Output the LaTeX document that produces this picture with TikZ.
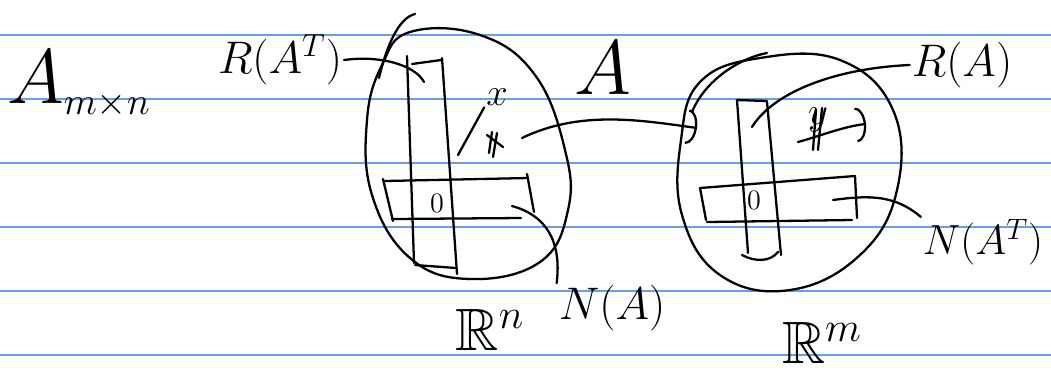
\RequirePackage{fix-cm}
\documentclass[tikz,border=0pt]{standalone}
\usepackage{amsmath,amssymb}
\usetikzlibrary{arrows.meta}
\definecolor{ruleblue}{RGB}{100,160,235}
\tikzset{
  ink/.style={line width=1.3pt, line cap=round, line join=round},
  rule/.style={draw=ruleblue, line width=0.9pt},
  lbl/.style={font=\fontsize{26}{28}\selectfont, inner sep=1pt},
  big/.style={font=\fontsize{44}{46}\selectfont, inner sep=1pt},
  small/.style={font=\fontsize{16}{18}\selectfont, inner sep=1pt},
  curl/.style={-{Arc Barb[length=2mm,width=7mm]}}
}

\begin{document}
\begin{tikzpicture}[x=0.2mm,y=-0.2mm]
  \fill[white] (0,0) rectangle (1051,375);
  \useasboundingbox (0,0) rectangle (1051,375);
  % ruled paper
  \foreach \y in {35,99,163,227,291,355}
    \draw[rule] (0,\y) -- (1051,\y);

  % labels
  \node[big, anchor=base west] (amat) at (5,103) {$A_{\scriptscriptstyle m\times n}$};
  \node[lbl] (ratrans) at (280,60) {$R(A^T)$};
  \node[big] (amap) at (603,68) {$A$};
  \node[lbl] (ra) at (962,65) {$R(A)$};
  \node[lbl] (na) at (612,308) {$N(A)$};
  \node[lbl, font=\fontsize{24}{26}\selectfont] (natrans) at (983,242) {$N(A^T)$};
  \node[lbl, font=\fontsize{34}{36}\selectfont] (rn) at (490,330) {$\mathbb{R}^n$};
  \node[lbl, font=\fontsize{34}{36}\selectfont] (rm) at (822,343) {$\mathbb{R}^m$};

  % left space R^n
  \draw[ink] plot[smooth cycle, tension=0.7] coordinates
    {(410,32) (480,35) (535,75) (565,150) (568,210) (540,262) (470,279) (410,258) (372,195) (367,120) (382,65)};
  \draw[ink] (415,14) .. controls (398,18) and (386,48) .. (379,78);
  % row space
  \draw[ink] (407,56) -- (414,263);
  \draw[ink] (442,58) -- (457,274);
  \draw[ink] (412,64) -- (441,60);
  \draw[ink] (415,265) -- (456,268);
  % null space
  \draw[ink] (385,181) -- (528,178);
  \draw[ink] (383,179) -- (393,221);
  \draw[ink] (392,219) -- (521,218);
  \draw[ink] (527,174) -- (534,212);
  \node[small] (zeroL) at (437,203) {$0$};

  % vector x
  \node[lbl, font=\fontsize{22}{24}\selectfont] (xvec) at (497,97) {$x$};
  \coordinate (xfoot) at (458,155);
  \draw[ink] (xfoot) -- (xvec.south west);
  \draw[ink] (492,132) -- (489,153);
  \draw[ink] (497,133) -- (493,157);
  \draw[ink] (487,135) -- (503,147);

  % right space R^m
  \draw[ink] plot[smooth cycle, tension=0.7] coordinates
    {(700,82) (760,58) (840,60) (893,110) (897,190) (860,255) (790,290) (720,275) (682,215) (681,140)};
  \draw[ink] (767,53) .. controls (740,58) and (705,80) .. (692,112);
  % column space
  \draw[ink] (737,100) -- (748,253);
  \draw[ink] (767,102) -- (781,255);
  \draw[ink] (737,100) -- (767,101);
  \draw[ink] (742,255) .. controls (755,262) and (770,262) .. (778,252);
  % left null space
  \draw[ink] (700,188) -- (855,176);
  \draw[ink] (855,176) -- (857,218);
  \draw[ink] (707,222) -- (852,220);
  \draw[ink] (700,188) -- (706,220);
  \node[small] (zeroR) at (754,200) {$0$};

  % vector y
  \node[lbl, font=\fontsize{22}{24}\selectfont] (yvec) at (818,120) {$y$};
  \coordinate (ytail) at (798,142);
  \coordinate (yhead) at (866,124);
  \draw[ink, curl] (ytail) .. controls (820,136) and (845,126) .. (yhead);
  \draw[ink] (816,110) -- (813,150);
  \draw[ink] (822,108) -- (818,150);

  % A maps x over
  \coordinate (xtail) at (522,138);
  \coordinate (ytarget) at (697,128);
  \draw[ink, curl] (xtail) .. controls (580,110) and (640,120) .. (ytarget);

  % label leaders
  \coordinate (rowend) at (424,82);
  \coordinate (nullend) at (512,206);
  \coordinate (colend) at (752,127);
  \coordinate (lnullend) at (833,200);
  \draw[ink] (ratrans.east) .. controls (380,55) and (415,65) .. (rowend);
  \draw[ink] (na.north west) .. controls (562,240) and (545,215) .. (nullend);
  \draw[ink] (ra.west) .. controls (840,68) and (775,90) .. (colend);
  \draw[ink] (natrans.north west) .. controls (895,195) and (870,195) .. (lnullend);
\end{tikzpicture}
\end{document}
